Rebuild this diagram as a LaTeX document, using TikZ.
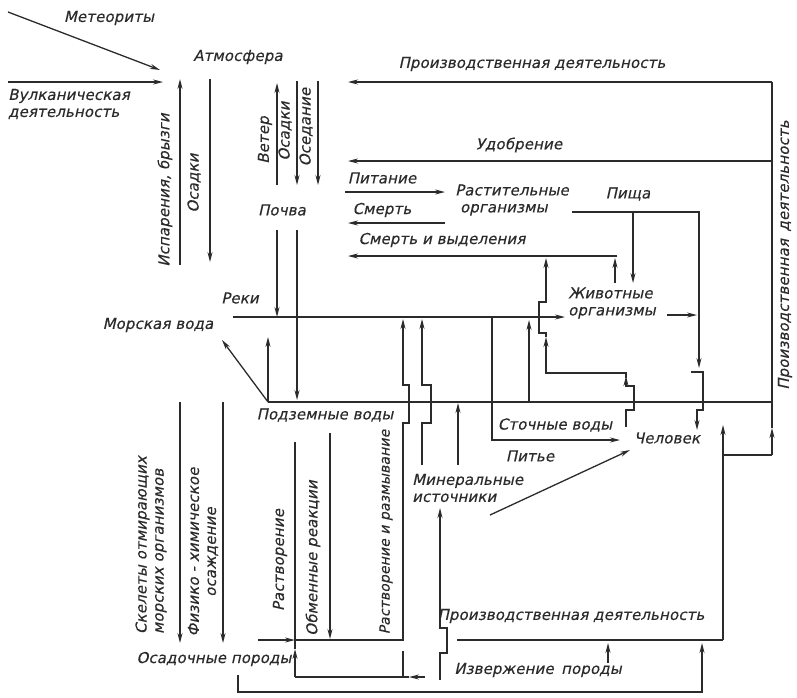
\documentclass[tikz,border=0pt]{standalone}
\usepackage{fontspec}
\setmainfont{DejaVu Sans}
\newfontfamily\gost{DejaVu Sans}[FakeSlant=0.22,LetterSpace=0.8,FakeBold=0.4]
\usetikzlibrary{arrows.meta}
\definecolor{ink}{HTML}{2B2B2B}
\tikzset{
  ln/.style={draw=ink, line width=1.3pt},
  ar/.style={ln, -{Stealth[length=10pt,width=5pt]}},
  lbl/.style={text=ink, inner sep=0pt, font=\gost\fontsize{15}{17}\selectfont},
  vlbl/.style={lbl, rotate=90},
}
\begin{document}
\begin{tikzpicture}[x=1pt,y=-1pt]
\useasboundingbox (0,0) rectangle (797,697);
% ---------- labels ----------
\node[lbl] (met) at (109,18) {Метеориты};
\node[lbl] (atm) at (238,57) {Атмосфера};
\node[lbl, anchor=west, align=left] (vulk) at (8,104) {Вулканическая\\деятельность};
\node[vlbl] (isp) at (165,190) {Испарения, брызги};
\node[vlbl] (osa1) at (194,183) {Осадки};
\node[vlbl] (veter) at (265,140) {Ветер};
\node[vlbl] (osa2) at (285,131) {Осадки};
\node[vlbl] (osed) at (306,127) {Оседание};
\node[lbl] (pochva) at (282,210) {Почва};
\node[lbl] (reki) at (240,298) {Реки};
\node[lbl] (more) at (158,325) {Морская вода};
\node[lbl] (podz) at (325,415) {Подземные воды};
\node[lbl] (proiz1) at (532,64) {Производственная деятельность};
\node[lbl] (udob) at (519,145) {Удобрение};
\node[lbl] (pit) at (382,178) {Питание};
\node[lbl, anchor=west, align=left] (rast) at (455,200) {Растительные\\ \ организмы};
\node[lbl] (smert) at (382,210) {Смерть};
\node[lbl] (smvyd) at (442,240) {Смерть и выделения};
\node[lbl] (pisha) at (628,194) {Пища};
\node[lbl, anchor=west, align=left] (zhiv) at (568,303) {Животные\\организмы};
\node[lbl] (stoch) at (555,425) {Сточные воды};
\node[lbl] (pitie) at (530,456) {Питье};
\node[lbl] (chel) at (667,438) {Человек};
\node[lbl, anchor=west, align=left] (miner) at (412,488) {Минеральные\\источники};
\node[vlbl, align=left] (skel) at (151,545) {Скелеты отмирающих\\морских организмов};
\node[vlbl, align=center] (fiz) at (203,552) {Физико - химическое\\осаждение};
\node[vlbl] (rastv) at (280,560) {Растворение};
\node[vlbl] (obmen) at (313,558) {Обменные реакции};
\node[vlbl, font=\gost\fontsize{14}{16}\selectfont] (rastraz) at (386,532) {Растворение и размывание};
\node[lbl] (osadp) at (214,659) {Осадочные породы};
\node[lbl] (proiz2) at (571,616) {Производственная деятельность};
\node[lbl] (izv) at (538,670) {Извержение\enspace породы};
\node[vlbl] (proiz3) at (785,255) {Производственная\enspace деятельность};
% ---------- connectors ----------
\draw[ar] (8,12) -- (160,70);
\draw[ar] (8,82) -- (163,82);
\draw[ar] (180,265) -- (180,79);
\draw[ar] (210,79) -- (210,262);
\draw[ar] (277,185) -- (277,83);
\draw[ar] (297,81) -- (297,185);
\draw[ar] (318,81) -- (318,185);
\draw[ar] (277,230) -- (277,317);
\draw[ar] (297,230) -- (297,400);
% surface water
\draw[ar] (233,317) -- (565,317);
% ground water
\draw[ln] (268,402) -- (772,402);
\draw[ar] (268,402) -- (222,340);
\draw[ar] (268,402) -- (268,337);
% right production line
\draw[ar] (772,455) -- (772,428);
\draw[ln] (772,428) -- (772,82);
\draw[ar] (772,82) -- (348,82);
\draw[ar] (772,161) -- (348,161);
\draw[ar] (345,192) -- (445,192);
\draw[ar] (445,223) -- (348,223);
\draw[ar] (617,256) -- (348,256);
% food
\draw[ar] (572,212) -- (699,212) -- (699,368);
\draw[ar] (633,212) -- (633,283);
\draw[ar] (691,372) -- (703,372) -- (703,410) -- (697,410) -- (697,430);
\draw[ar] (667,315) -- (697,315);
\draw[ar] (615,283) -- (615,258);
% human -> death and excretion
\draw[ar] (626,427) -- (626,410) -- (634,410) -- (634,386) -- (626,386) -- (626,376);
\draw[ln] (626,378) -- (626,373) -- (546,373) -- (546,340);
\draw[ar] (546,373) -- (546,337);
\draw[ar] (546,337) -- (546,333) -- (539,333) -- (539,302) -- (546,302) -- (546,258);
% waste water / drinking
\draw[ar] (492,317) -- (492,440) -- (620,440);
\draw[ar] (529,402) -- (529,320);
% dissolution and erosion
\draw[ar] (295,640) -- (403,640) -- (403,423) -- (409,423) -- (409,385) -- (403,385) -- (403,319);
\draw[ar] (422,465) -- (422,423) -- (431,423) -- (431,385) -- (422,385) -- (422,319);
\draw[ar] (458,465) -- (458,403);
% sedimentary rocks
\draw[ar] (258,640) -- (295,640);
\draw[ar] (425,677) -- (409,677);
\draw[ln] (409,677) -- (295,677);
\draw[ar] (295,677) -- (295,649);
\draw[ln] (295,649) -- (295,442);
\draw[ln] (403,651) -- (403,677);
\draw[ar] (330,433) -- (330,639);
\draw[ar] (180,402) -- (180,643);
\draw[ar] (223,402) -- (223,643);
% bottom loop
\draw[ar] (238,675) -- (238,692) -- (702,692) -- (702,643);
\draw[ar] (608,663) -- (608,643);
\draw[ln] (457,640) -- (723,640);
\draw[ar] (723,640) -- (723,425);
\draw[ln] (723,455) -- (772,455);
\draw[ar] (440,680) -- (440,653) -- (447,653) -- (447,628) -- (440,628) -- (440,508);
\draw[ar] (490,515) -- (630,450);
\end{tikzpicture}
\end{document}
